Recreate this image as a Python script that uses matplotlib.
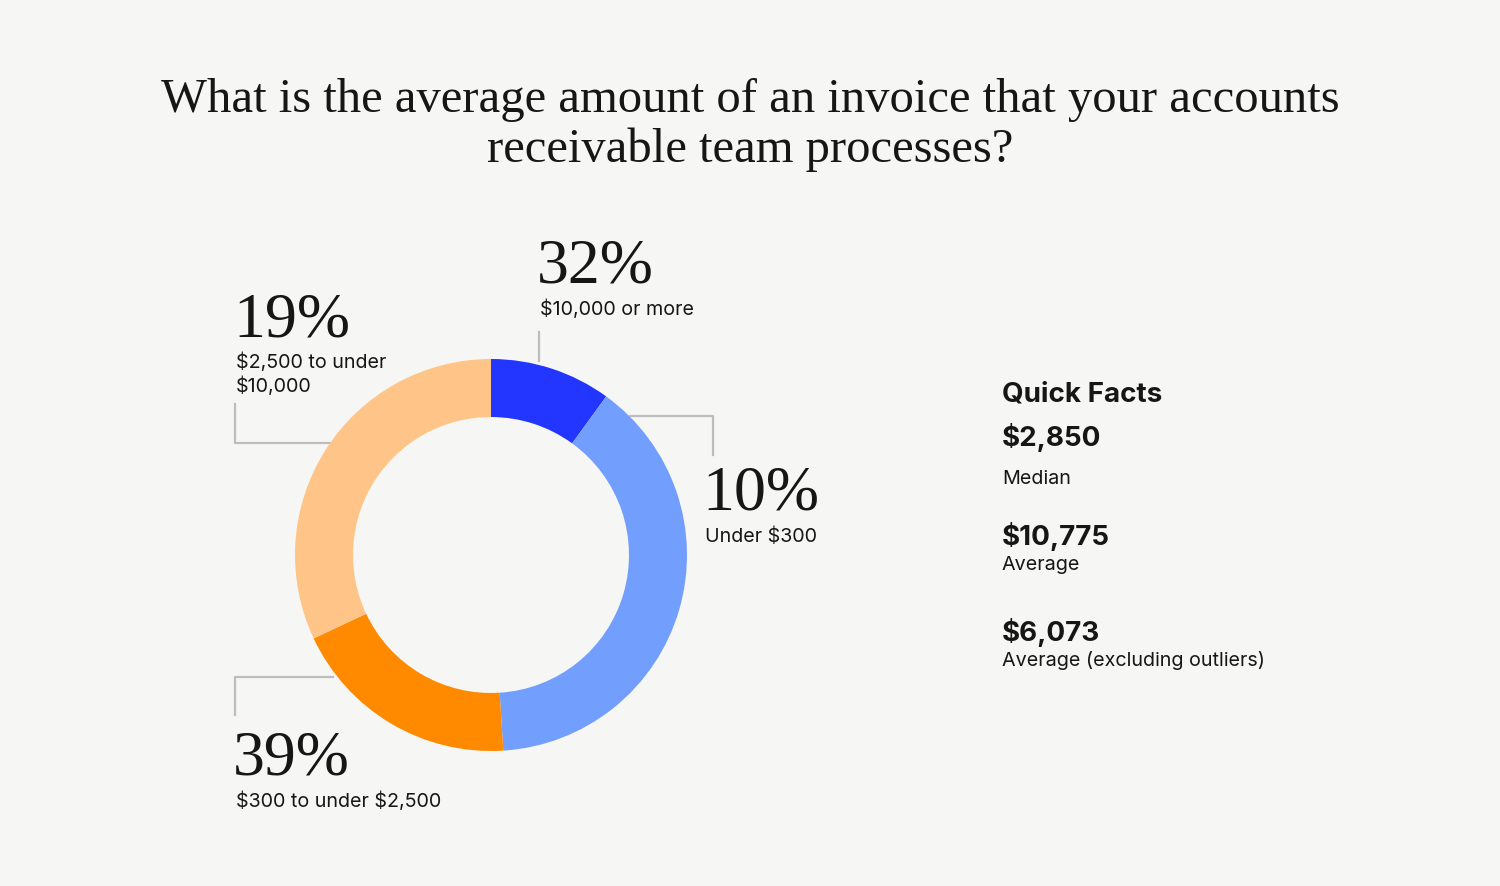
import matplotlib.pyplot as plt
from matplotlib.lines import Line2D

plt.rcParams['text.parse_math'] = False

# slice sizes as drawn, clockwise from 12 o'clock
slice_values = [10, 39, 19, 32]
slice_colors = ['#2236ff', '#729efe', '#ff8a00', '#ffc588']

# callout labels as printed on the chart
label_pcts = ['32%', '10%', '39%', '19%']
label_names = [['$10,000 or more'], ['Under $300'], ['$300 to under $2,500'],
               ['$2,500 to under', '$10,000']]

facts_values = ['$2,850', '$10,775', '$6,073']
facts_names = ['Median', 'Average', 'Average (excluding outliers)']

title_lines = ['What is the average amount of an invoice that your accounts',
               'receivable team processes?']

BG = '#f6f6f4'
INK = '#161616'
LINE = '#bdbdbd'
SERIF = 'Liberation Serif'
SANS = 'Inter'

W, H = 1500, 887
fig = plt.figure(figsize=(W / 100, H / 100), dpi=100, facecolor=BG)

# overlay axes in pixel coordinates
ov = fig.add_axes([0, 0, 1, 1])
ov.set_xlim(0, W)
ov.set_ylim(H, 0)
ov.axis('off')

# donut
cx, cy, r = 491, 556, 196
pie_ax = fig.add_axes([(cx - r) / W, (H - cy - r) / H, 2 * r / W, 2 * r / H])
pie_ax.pie(slice_values, colors=slice_colors, startangle=90, counterclock=False,
           radius=1, wedgeprops=dict(width=0.296, linewidth=0))
pie_ax.set_xlim(-1, 1)
pie_ax.set_ylim(-1, 1)
pie_ax.axis('off')

for i, line in enumerate(title_lines):
    ov.text(750, 112 + 50 * i, line, ha='center', va='baseline', fontsize=35,
            family=SERIF, color=INK)

# callouts: (x, pct baseline, first name baseline)
callout_pos = [(540, 283, 315), (705, 510, 542), (236, 775, 807), (236, 337, 368)]
for (x, yb, yn), pct, name in zip(callout_pos, label_pcts, label_names):
    ov.text(x - 3, yb, pct, ha='left', va='baseline', fontsize=46,
            family=SERIF, color=INK)
    for j, part in enumerate(name):
        ov.text(x, yn + 24 * j, part, ha='left', va='baseline', fontsize=14.2,
                family=SANS, color=INK)

connectors = [
    ([539, 539], [333, 362]),
    ([630, 713, 713], [417, 417, 456]),
    ([333, 235, 235], [678, 678, 716]),
    ([235, 235, 330], [405, 444, 444]),
]
for xs, ys in connectors:
    ov.add_line(Line2D(xs, ys, color=LINE, linewidth=1.6, zorder=0))

# quick facts
fx = 1002
ov.text(fx, 402, 'Quick Facts', ha='left', va='baseline', fontsize=20,
        family=SANS, weight='bold', color=INK)
value_y = [446, 545, 641]
name_y = [484, 570, 666]
for v, n, vy, ny in zip(facts_values, facts_names, value_y, name_y):
    ov.text(fx, vy, v, ha='left', va='baseline', fontsize=20,
            family=SANS, weight='bold', color=INK)
    ov.text(fx, ny, n, ha='left', va='baseline', fontsize=14.2,
            family=SANS, color=INK)

fig.savefig('out.png', dpi=100, facecolor=BG)
